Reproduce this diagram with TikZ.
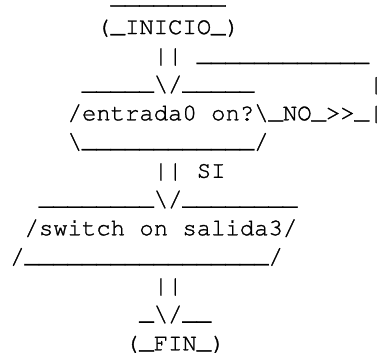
\documentclass[tikz,border=0pt]{standalone}
\usepackage[T1,TU]{fontenc}
\newcommand\crfont{\fontencoding{T1}\fontfamily{pcr}\fontseries{m}\fontshape{n}\fontsize{23.917pt}{28.75pt}\selectfont\special{pdf:literal direct 2 Tr 0.3 w}}
\newcommand\bs{\textbackslash}
\newcommand\vb{\textbar}
\newcommand\us{\raisebox{1.7pt}{\_}}
\tikzset{asc/.style={anchor=base west, inner sep=0pt, outer sep=0pt, font=\crfont, text=black}}
\begin{document}
\begin{tikzpicture}[x=14.35pt,y=-28.75pt]
\fill[white] (0,0) rectangle (26.2718,12.2435);
\useasboundingbox (0,0) rectangle (26.2718,12.2435);
\begin{scope}[shift={(0.7143,-0.8174)}]
\node[asc] (top)    at (7,1)  {\us\us\us\us\us\us\us\us};
\node[asc] (inicio) at (6,2)  {(\us INICIO\us)};
\node[asc] (bars1)  at (10,3) {\vb\vb};
\node[asc] (rline)  at (13,3) {\us\us\us\us\us\us\us\us\us\us\us\us};
\node[asc] (dtop)   at (5,4)  {\us\us\us\us\us\bs/\us\us\us\us\us};
\node[asc] (rbar)   at (25,4) {\vb};
\node[asc] (dec)    at (4,5)  {/entrada0 on?\bs\us NO\us>{}>\us\vb};
\node[asc] (dbot)   at (4,6)  {\bs\us\us\us\us\us\us\us\us\us\us\us\us/};
\node[asc] (bars2)  at (10,7) {\vb\vb};
\node[asc] (si)     at (13,7) {SI};
\node[asc] (stop)   at (2,8)  {\us\us\us\us\us\us\us\us\bs/\us\us\us\us\us\us\us\us};
\node[asc] (io)     at (1,9)  {/switch on salida3/};
\node[asc] (sbot)   at (0,10) {/\us\us\us\us\us\us\us\us\us\us\us\us\us\us\us\us\us/};
\node[asc] (bars3)  at (10,11) {\vb\vb};
\node[asc] (ftop)   at (9,12) {\us\bs/\us\us};
\node[asc] (fin)    at (8,13) {(\us FIN\us)};
\end{scope}
\end{tikzpicture}
\end{document}
